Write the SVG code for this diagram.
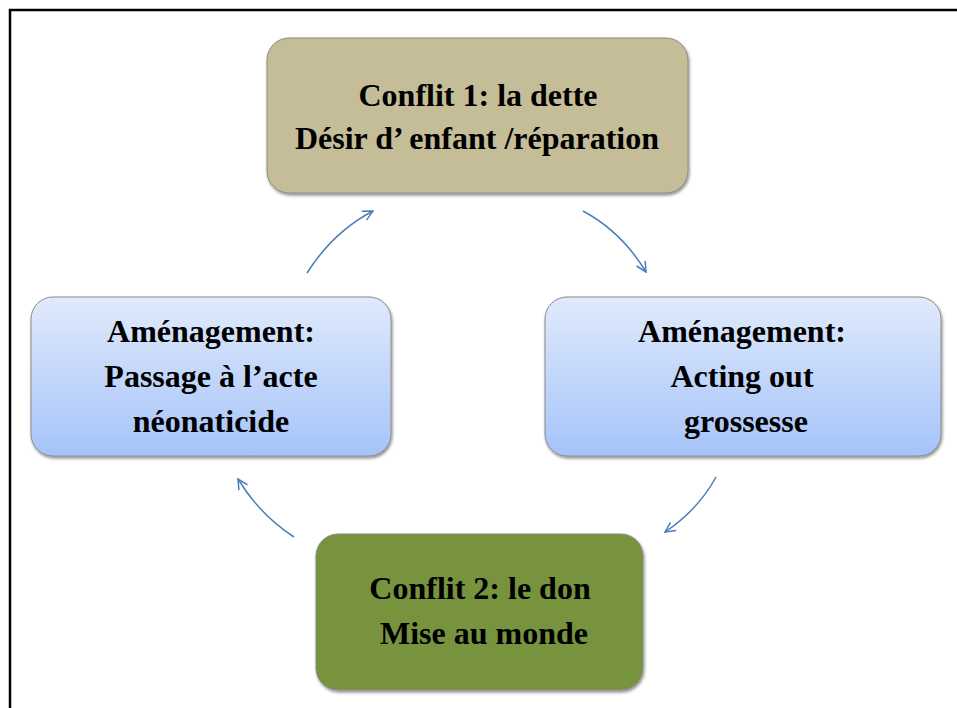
<svg xmlns="http://www.w3.org/2000/svg" width="957" height="708" viewBox="0 0 957 708">
<style>
.t{font-family:"Liberation Serif","Times New Roman",serif;font-weight:bold;font-size:32px;fill:#000;text-anchor:middle}
.box{stroke:#8a8a8a;stroke-width:1;filter:url(#sh)}
.arr{fill:none;stroke:#4a7ebb;stroke-width:1.5;marker-end:url(#ah)}
</style>
<defs>
<linearGradient id="blue" x1="0" y1="0" x2="0" y2="1">
<stop offset="0" stop-color="#e0eafb"/>
<stop offset="1" stop-color="#a5c3fa"/>
</linearGradient>
<filter id="sh" x="-5%" y="-5%" width="110%" height="115%">
<feDropShadow dx="1" dy="2" stdDeviation="1.5" flood-color="#000" flood-opacity="0.45"/>
</filter>
<marker id="ah" viewBox="0 0 12 12" refX="11" refY="6" markerWidth="12" markerHeight="12" markerUnits="userSpaceOnUse" orient="auto">
<path d="M1,1 L11,6 L1,11" fill="none" stroke="#4a7ebb" stroke-width="1.5"/>
</marker>
</defs>
<rect width="957" height="708" fill="#fff"/>
<path d="M10,708 V10 H957" fill="none" stroke="#000" stroke-width="2.5"/>
<g id="connectors">
<path class="arr" d="M307,273 Q333,232 373,211"/>
<path class="arr" d="M583,211 Q622,232 646,272"/>
<path class="arr" d="M716,477 Q698,510 665,532"/>
<path class="arr" d="M294,537 Q260,515 238,479"/>
</g>
<g id="n1">
<rect class="box" x="267" y="38" width="421" height="155" rx="22" fill="#c4bd97"/>
<text class="t" x="478" y="106">Conflit 1: la dette</text>
<text class="t" x="477" y="149">Désir d’ enfant /réparation</text>
</g>
<g id="n2">
<rect class="box" x="545" y="297" width="396" height="159" rx="22" fill="url(#blue)"/>
<text class="t" x="742" y="342">Aménagement:</text>
<text class="t" x="742" y="387">Acting out</text>
<text class="t" x="746" y="432">grossesse</text>
</g>
<g id="n3">
<rect class="box" x="316" y="534" width="327" height="156" rx="22" fill="#77933c"/>
<text class="t" x="480" y="599">Conflit 2: le don</text>
<text class="t" x="484" y="644">Mise au monde</text>
</g>
<g id="n4">
<rect class="box" x="31" y="297" width="360" height="159" rx="22" fill="url(#blue)"/>
<text class="t" x="211" y="342">Aménagement:</text>
<text class="t" x="211" y="387">Passage à l’acte</text>
<text class="t" x="211" y="432">néonaticide</text>
</g>
</svg>
